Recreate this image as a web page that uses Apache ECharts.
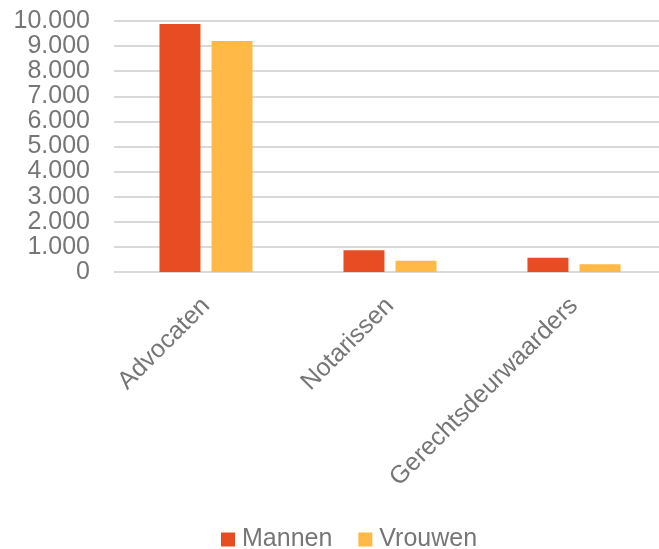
<!DOCTYPE html>
<html>
<head>
<meta charset="utf-8">
<script src="https://cdn.jsdelivr.net/npm/echarts@6/dist/echarts.min.js"></script>
<style>
  html, body { margin: 0; padding: 0; background: #fff; }
  #chart { width: 659px; height: 549px; }
</style>
</head>
<body>
<div id="chart"></div>
<script>
// categorieën en waarden
const categories = ['Advocaten', 'Notarissen', 'Gerechtsdeurwaarders']
const mannen = [9880, 870, 570]
const vrouwen = [9200, 450, 305]
const yTicks = { min: 0, max: 10000, interval: 1000 }

const textColor = '#767676'
const fontFamily = '"Liberation Sans", Arial, sans-serif'

function formatThousands(v) {
  return String(v).replace(/\B(?=(\d{3})+(?!\d))/g, '.')
}

const chart = echarts.init(document.getElementById('chart'), null, { renderer: 'canvas' })

chart.setOption({
  animation: false,
  textStyle: { fontFamily: fontFamily },
  grid: {
    left: 114,
    top: 21,
    width: 552,
    height: 251,
    containLabel: false,
    outerBoundsMode: 'none'
  },
  legend: {
    top: 522,
    left: 216,
    itemWidth: 14,
    itemHeight: 14,
    itemGap: 26,
    icon: 'rect',
    textStyle: { color: textColor, fontSize: 25, fontFamily: fontFamily, padding: [0, 0, 0, 2] },
    data: ['Mannen', 'Vrouwen']
  },
  xAxis: {
    type: 'category',
    data: categories,
    axisLine: { show: false },
    axisTick: { show: false },
    axisLabel: {
      rotate: 45,
      margin: 30,
      color: textColor,
      fontSize: 25,
      fontFamily: fontFamily
    }
  },
  yAxis: {
    type: 'value',
    min: yTicks.min,
    max: yTicks.max,
    interval: yTicks.interval,
    axisLine: { show: false },
    axisTick: { show: false },
    splitLine: { lineStyle: { color: '#d9d9d9', width: 2 } },
    axisLabel: {
      color: textColor,
      fontSize: 25,
      margin: 24,
      fontFamily: fontFamily,
      formatter: formatThousands
    }
  },
  series: [
    {
      name: 'Mannen',
      type: 'bar',
      data: mannen,
      barWidth: 41,
      barGap: '27%',
      itemStyle: { color: '#e84c22' }
    },
    {
      name: 'Vrouwen',
      type: 'bar',
      data: vrouwen,
      barWidth: 41,
      itemStyle: { color: '#ffb946' }
    }
  ]
})
</script>
</body>
</html>
